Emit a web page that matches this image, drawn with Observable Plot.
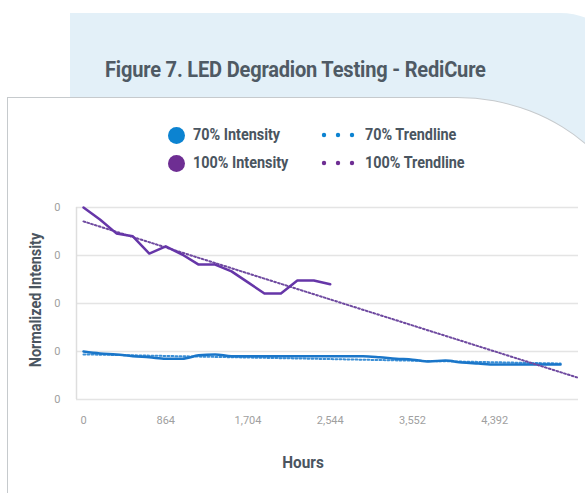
<!DOCTYPE html>
<html>
<head>
<meta charset="utf-8">
<script src="https://cdn.jsdelivr.net/npm/d3@7"></script>
<script src="https://cdn.jsdelivr.net/npm/@observablehq/plot@0.6"></script>
<style>
  html, body { margin: 0; padding: 0; background: #ffffff; }
  #page { position: relative; width: 585px; height: 493px; overflow: hidden; font-family: Roboto, "Noto Sans", sans-serif; }
  #bgpanel { position: absolute; left: 70px; top: 13px; width: 560px; height: 520px; background: #e3f0f8; border-top-right-radius: 70px; }
  #title { position: absolute; left: 105px; top: 57px; font-size: 22px; font-weight: 700; color: #4f5a64; white-space: nowrap; transform: scaleX(0.91); transform-origin: left center; letter-spacing: -0.2px; }
  #card { position: absolute; left: 7px; top: 97px; width: 640px; height: 460px; background: #ffffff; border: 1.5px solid #c6cacd; border-top-right-radius: 190px 175px; box-sizing: border-box; }
  .leg { position: absolute; font-size: 16px; font-weight: 700; color: #4a5560; white-space: nowrap; transform: scaleX(0.9); transform-origin: left center; }
  .dot { position: absolute; width: 17px; height: 17px; border-radius: 50%; }
  #ytitle { position: absolute; left: 35px; top: 300px; font-size: 16px; font-weight: 700; color: #4a5560; white-space: nowrap; transform: translate(-50%, -50%) rotate(-90deg) scaleX(0.9); }
  #xtitle { position: absolute; left: 303px; top: 462px; font-size: 17px; font-weight: 700; color: #4a5560; white-space: nowrap; transform: translate(-50%, -50%) scaleX(0.9); }
  #chart { position: absolute; left: 0; top: 190px; }
</style>
</head>
<body>
<div id="page">
  <div id="bgpanel"></div>
  <div id="title">Figure 7. LED Degradion Testing - RediCure</div>
  <div id="card"></div>
  <div id="legend"></div>
  <div id="ytitle">Normalized Intensity</div>
  <div id="xtitle">Hours</div>
  <div id="chart"></div>
</div>
<script>
// ---- data ----
const xTickIndex = [0, 5, 10, 15, 20, 25];
const xTickLabels = ["0", "864", "1,704", "2,544", "3,552", "4,392"];
const yTicks = [0.6, 0.7, 0.8, 0.9, 1.0];
const yTickLabels = ["0", "0", "0", "0", "0"];

const intensity100 = [1.000, 0.975, 0.946, 0.940, 0.904, 0.919, 0.902, 0.881, 0.881, 0.867, 0.844, 0.821, 0.821, 0.848, 0.848, 0.840];
const intensity70 = [0.700, 0.696, 0.694, 0.690, 0.688, 0.685, 0.685, 0.692, 0.694, 0.690, 0.690, 0.690, 0.690, 0.690, 0.690, 0.690, 0.690, 0.690, 0.688, 0.685, 0.683, 0.679, 0.681, 0.677, 0.675, 0.673, 0.673, 0.673, 0.673, 0.673];
const trend100Ends = [[0, 0.971], [30, 0.646]];
const trend70Ends = [[0, 0.694], [29, 0.675]];

const seriesNames = ["70% Intensity", "100% Intensity", "70% Trendline", "100% Trendline"];
const colors = { blue: "#1a76c9", blueDot: "#0c83d1", purple: "#6636a8", purpleDot: "#6e2e93", purpleTrend: "#6f4aa0", blueTrend: "#3b8fd6" };

// ---- legend ----
const legend = document.getElementById("legend");
function addDot(x, y, c) { const d = document.createElement("div"); d.className = "dot"; d.style.left = (x - 8.5) + "px"; d.style.top = (y - 8.5) + "px"; d.style.background = c; legend.appendChild(d); }
function addText(x, y, t) { const d = document.createElement("div"); d.className = "leg"; d.style.left = x + "px"; d.style.top = (y - 10) + "px"; d.textContent = t; legend.appendChild(d); }
function addTDots(x, y, c) {
  const ns = "http://www.w3.org/2000/svg";
  const s = document.createElementNS(ns, "svg"); s.setAttribute("width", 40); s.setAttribute("height", 8);
  s.style.left = (x - 4) + "px"; s.style.top = (y - 4) + "px"; s.style.position = "absolute";
  [4, 18, 32].forEach(cx => { const c2 = document.createElementNS(ns, "circle"); c2.setAttribute("cx", cx); c2.setAttribute("cy", 4); c2.setAttribute("r", 2.2); c2.setAttribute("fill", c); s.appendChild(c2); });
  legend.appendChild(s);
}
addDot(176, 135, colors.blueDot); addText(193, 135, seriesNames[0]);
addDot(176, 163, colors.purpleDot); addText(193, 163, seriesNames[1]);
addTDots(324, 135, colors.blueDot); addText(365, 135, seriesNames[2]);
addTDots(324, 163, colors.purpleDot); addText(365, 163, seriesNames[3]);

// ---- chart ----
const d100 = intensity100.map((v, i) => ({ i, v }));
const d70 = intensity70.map((v, i) => ({ i, v }));
const t100 = trend100Ends.map(([i, v]) => ({ i, v }));
const t70 = trend70Ends.map(([i, v]) => ({ i, v }));

const chart = Plot.plot({
  width: 585,
  height: 250,
  marginLeft: 76,
  marginRight: 7,
  marginTop: 17,
  marginBottom: 41,
  style: { fontFamily: "Roboto, sans-serif", background: "transparent", overflow: "visible" },
  x: { domain: [0, 30], insetLeft: 7, insetRight: 1.5, axis: null },
  y: { domain: [0.6, 1.0], axis: null },
  marks: [
    Plot.gridY(yTicks, { stroke: "#e4e4e4", strokeOpacity: 1, strokeWidth: 1.5 }),
    Plot.ruleX([0], { dx: -7, stroke: "#dedede", strokeWidth: 1.5 }),
    Plot.axisY(yTicks, { label: null, tickSize: 0, tickPadding: 16, fontSize: 11, fill: "#a0a0a0", tickFormat: (d, i) => yTickLabels[i] }),
    Plot.axisX(xTickIndex, { label: null, tickSize: 0, tickPadding: 17, fontSize: 11, fill: "#a0a0a0", tickFormat: (d, i) => xTickLabels[i] }),
    Plot.line(t70, { x: "i", y: "v", stroke: colors.blueTrend, strokeWidth: 2, strokeDasharray: "1.8 2.2" }),
    Plot.line(d70, { x: "i", y: "v", stroke: colors.blue, strokeWidth: 2.5, curve: "monotone-x" }),
    Plot.line(t100, { x: "i", y: "v", stroke: colors.purpleTrend, strokeWidth: 2, strokeDasharray: "1.8 2.2" }),
    Plot.line(d100, { x: "i", y: "v", stroke: colors.purple, strokeWidth: 2.5 })
  ]
});
document.getElementById("chart").appendChild(chart);
</script>
</body>
</html>
